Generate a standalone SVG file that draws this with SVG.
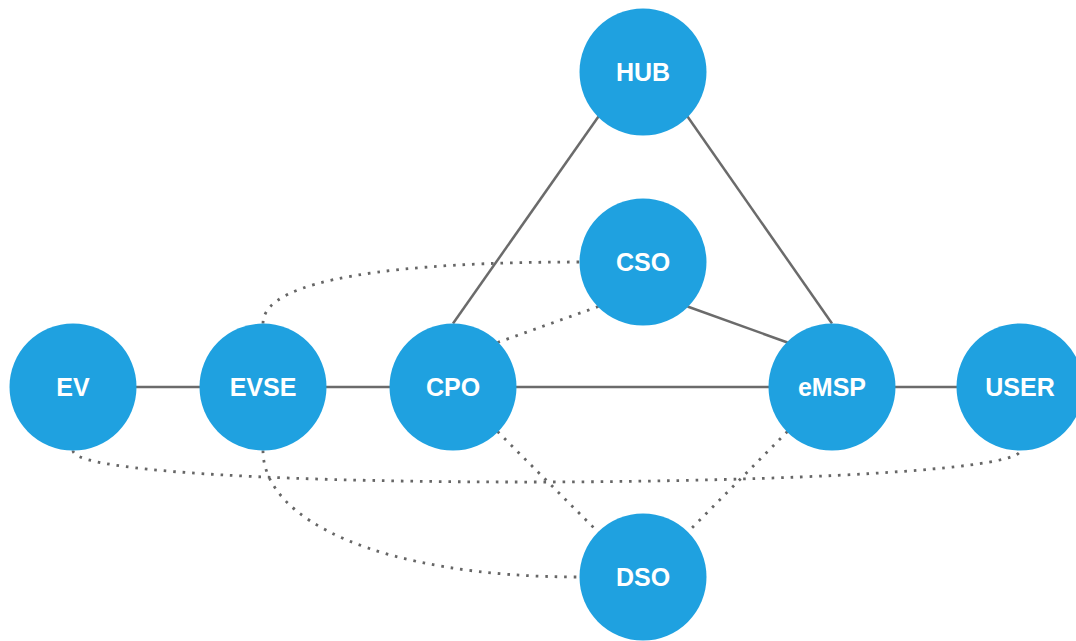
<svg xmlns="http://www.w3.org/2000/svg" width="1076" height="641" viewBox="0 0 1076 641">
  <style>
    .solid { fill: none; stroke: #6b6b6b; stroke-width: 2.5; }
    .dotted { fill: none; stroke: #666666; stroke-width: 2.8; stroke-dasharray: 2.6 6.9; }
    .node circle { fill: #1fa1e0; }
    .node text { fill: #ffffff; font-family: "Liberation Sans", Arial, sans-serif; font-weight: bold; font-size: 25px; text-anchor: middle; }
  </style>
  <rect width="1076" height="641" fill="#ffffff"/>

  <g id="connectors">
    <!-- solid links -->
    <line class="solid" x1="136" y1="387" x2="200" y2="387"/>
    <line class="solid" x1="326" y1="387" x2="390" y2="387"/>
    <line class="solid" x1="516" y1="387" x2="769" y2="387"/>
    <line class="solid" x1="895" y1="387" x2="957" y2="387"/>
    <line class="solid" x1="598.5" y1="116.5" x2="453" y2="323.5"/>
    <line class="solid" x1="687.5" y1="116.5" x2="832" y2="323.5"/>
    <line class="solid" x1="687.5" y1="306.5" x2="787.5" y2="342.5"/>
    <!-- dotted links -->
    <path class="dotted" d="M263 323.5 C263 278 400 262 580 262"/>
    <path class="dotted" d="M263 450.5 C263 520 380 577 580 577"/>
    <path class="dotted" d="M73 450.5 C73 495 1020 490 1020 450.5"/>
    <line class="dotted" x1="497.5" y1="342.5" x2="598.5" y2="306.5"/>
    <line class="dotted" x1="497.5" y1="431.5" x2="598.5" y2="532.5"/>
    <line class="dotted" x1="787.5" y1="431.5" x2="687.5" y2="532.5"/>
  </g>

  <g id="node-hub" class="node"><circle cx="643" cy="72" r="63.5"/><text x="643" y="80.5">HUB</text></g>
  <g id="node-cso" class="node"><circle cx="643" cy="262" r="63.5"/><text x="643" y="270.5">CSO</text></g>
  <g id="node-ev" class="node"><circle cx="73" cy="387" r="63.5"/><text x="73" y="395.5">EV</text></g>
  <g id="node-evse" class="node"><circle cx="263" cy="387" r="63.5"/><text x="263" y="395.5">EVSE</text></g>
  <g id="node-cpo" class="node"><circle cx="453" cy="387" r="63.5"/><text x="453" y="395.5">CPO</text></g>
  <g id="node-emsp" class="node"><circle cx="832" cy="387" r="63.5"/><text x="832" y="395.5">eMSP</text></g>
  <g id="node-user" class="node"><circle cx="1020" cy="387" r="63.5"/><text x="1020" y="395.5">USER</text></g>
  <g id="node-dso" class="node"><circle cx="643" cy="577" r="63.5"/><text x="643" y="585.5">DSO</text></g>
</svg>
